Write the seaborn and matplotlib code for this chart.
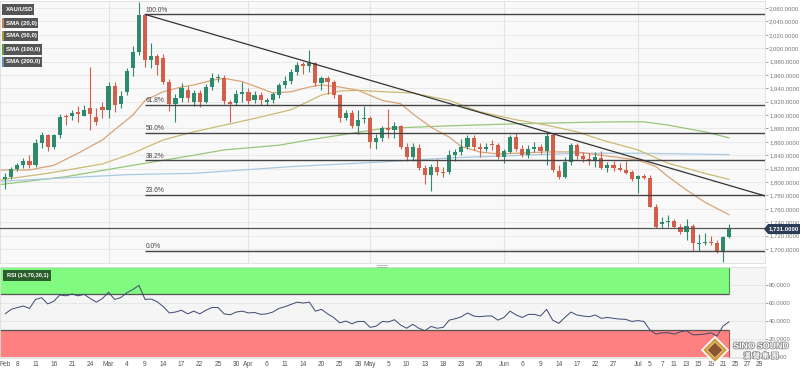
import numpy as np
import seaborn as sns
import matplotlib.pyplot as plt
import matplotlib.patheffects as pe
from matplotlib.patches import Rectangle, Polygon
from matplotlib.lines import Line2D
from matplotlib.ticker import FuncFormatter

sns.set_theme(style="white")
plt.rcParams['font.family'] = ['Liberation Sans', 'Noto Sans CJK TC', 'DejaVu Sans']

### data (one entry per trading day, Feb 4 .. Jul 22 2022)
opens = [1805, 1807, 1820, 1825, 1831, 1826, 1858, 1870, 1853, 1871,
         1898, 1898, 1905, 1899, 1910, 1897, 1912, 1908, 1943, 1916,
         1934, 1970, 1994, 2050, 1983, 1988, 1986, 1950, 1917, 1925,
         1937, 1920, 1933, 1920, 1942, 1955, 1956, 1920, 1918, 1931,
         1935, 1922, 1930, 1920, 1922, 1930, 1945, 1951, 1964, 1977,
         1974, 1978, 1948, 1955, 1950, 1930, 1896, 1903, 1884, 1894,
         1896, 1860, 1866, 1881, 1877, 1883, 1853, 1838, 1851, 1821,
         1810, 1822, 1815, 1815, 1840, 1845, 1853, 1866, 1853, 1850,
         1857, 1855, 1837, 1845, 1867, 1850, 1840, 1850, 1853, 1846,
         1870, 1817, 1808, 1830, 1855, 1839, 1834, 1832, 1836, 1821,
         1825, 1821, 1818, 1815, 1804, 1809, 1806, 1763, 1738, 1740,
         1742, 1733, 1726, 1735, 1708, 1709, 1711, 1709, 1696, 1718]
closes = [1808, 1819, 1826, 1832, 1825, 1859, 1870, 1853, 1870, 1897,
          1897, 1903, 1901, 1908, 1901, 1889, 1907, 1943, 1915, 1928,
          1966, 1994, 2050, 1982, 1988, 1975, 1950, 1917, 1925, 1940,
          1925, 1933, 1920, 1942, 1955, 1957, 1921, 1917, 1931, 1935,
          1921, 1930, 1922, 1922, 1931, 1945, 1951, 1964, 1975, 1974,
          1978, 1948, 1955, 1950, 1930, 1896, 1903, 1884, 1893, 1896,
          1860, 1866, 1880, 1877, 1883, 1853, 1837, 1852, 1821, 1810,
          1822, 1815, 1814, 1840, 1845, 1853, 1866, 1853, 1850, 1853,
          1855, 1837, 1846, 1867, 1850, 1840, 1850, 1853, 1847, 1869,
          1818, 1808, 1830, 1855, 1839, 1834, 1832, 1837, 1821, 1825,
          1821, 1818, 1814, 1804, 1809, 1806, 1763, 1733, 1740, 1742,
          1733, 1726, 1735, 1709, 1709, 1711, 1709, 1696, 1718, 1731]
highs = [1813, 1822, 1829, 1836, 1840, 1864, 1875, 1872, 1872, 1902,
         1902, 1908, 1913, 1915, 1972, 1911, 1920, 1950, 1950, 1936,
         1970, 2003, 2069, 2051, 2007, 1992, 1991, 1954, 1932, 1948,
         1943, 1938, 1937, 1947, 1963, 1962, 1960, 1922, 1937, 1950,
         1940, 1936, 1935, 1926, 1934, 1948, 1958, 1969, 1980, 1980,
         1997, 1980, 1958, 1958, 1953, 1932, 1908, 1907, 1908, 1914,
         1899, 1872, 1884, 1909, 1890, 1885, 1858, 1858, 1857, 1826,
         1827, 1834, 1822, 1848, 1849, 1865, 1870, 1870, 1858, 1858,
         1863, 1858, 1850, 1870, 1873, 1855, 1855, 1860, 1857, 1873,
         1874, 1825, 1838, 1858, 1858, 1845, 1844, 1845, 1846, 1830,
         1832, 1828, 1831, 1818, 1811, 1812, 1810, 1767, 1748, 1750,
         1745, 1737, 1745, 1738, 1722, 1724, 1720, 1713, 1720, 1738]
lows = [1790, 1805, 1816, 1821, 1821, 1822, 1851, 1846, 1849, 1866,
        1885, 1893, 1890, 1899, 1878, 1885, 1895, 1895, 1905, 1911,
        1930, 1958, 1990, 1972, 1970, 1960, 1946, 1906, 1889, 1920,
        1919, 1914, 1912, 1918, 1938, 1950, 1917, 1890, 1915, 1920,
        1916, 1918, 1915, 1915, 1918, 1925, 1940, 1947, 1960, 1962,
        1965, 1944, 1938, 1932, 1926, 1890, 1892, 1880, 1872, 1888,
        1851, 1850, 1862, 1866, 1866, 1850, 1832, 1832, 1818, 1797,
        1787, 1810, 1807, 1812, 1832, 1841, 1850, 1848, 1838, 1846,
        1848, 1834, 1829, 1843, 1847, 1837, 1836, 1845, 1842, 1825,
        1815, 1805, 1806, 1825, 1835, 1830, 1826, 1823, 1820, 1815,
        1816, 1816, 1812, 1802, 1783, 1804, 1762, 1732, 1732, 1733,
        1731, 1722, 1713, 1697, 1697, 1706, 1706, 1694, 1680, 1716]
rsi = [48, 53, 55, 56.7, 54, 64, 66, 59, 62, 69,
       68, 70, 68, 69.6, 65, 61, 65, 72, 64, 66,
       71.5, 75, 79.6, 64, 64.5, 61.5, 56, 49, 50, 52,
       48, 51, 48, 52, 55, 55, 48, 47, 50, 51,
       49, 49.5, 47.5, 48, 50, 54, 56, 58.5, 61, 60,
       61, 51, 53, 48, 44, 38, 40, 37, 39.6, 39.6,
       33, 34.4, 39.6, 39, 41.5, 35.6, 32, 36.4, 32, 29.3,
       34, 32, 33, 41, 42.6, 44.8, 49, 45.6, 44.8, 45.6,
       45.6, 41, 44, 51, 46.7, 44, 47.4, 47.4, 45.6, 53,
       41, 37.4, 44, 50, 46.7, 45.6, 44.8, 46.7, 43, 44,
       43, 42.2, 41.9, 39.6, 40.5, 39.6, 30, 25.6, 27, 27,
       25.6, 28, 29.3, 24.8, 24.8, 25.6, 27, 23.3, 34.4, 39.2]

# moving averages at a few days
sma20_idx = [-1, 4, 8, 12, 16, 18, 21, 23, 26, 29, 31, 34, 36, 39, 42, 44, 47, 50, 52,
             55, 58, 62, 65, 67, 70, 73, 75, 78, 81, 84, 89, 94, 98, 104, 107, 109, 112, 115, 119]
sma20_val = [1818, 1818, 1825, 1843, 1863, 1878, 1900, 1922, 1935, 1942, 1945, 1952, 1955, 1950,
             1940, 1933, 1935, 1942, 1945, 1942, 1937, 1922, 1917, 1902, 1882, 1867, 1853, 1845,
             1842, 1843, 1845, 1845, 1840, 1833, 1823, 1808, 1788, 1770, 1751]
sma50_idx = [-1, 7, 16, 21, 26, 31, 36, 41, 47, 52, 55, 58, 62, 67, 73, 78, 84, 89, 94, 98, 104, 109, 115, 119]
sma50_val = [1803, 1813, 1827, 1843, 1863, 1875, 1885, 1895, 1908, 1930, 1936, 1937, 1935, 1933,
             1922, 1905, 1893, 1885, 1875, 1863, 1848, 1828, 1813, 1804]
sma100_idx = [-1, 10, 21, 31, 36, 45, 50, 55, 62, 73, 84, 94, 101, 105, 109, 115, 119]
sma100_val = [1796, 1808, 1825, 1840, 1848, 1855, 1863, 1870, 1880, 1884, 1887, 1889, 1890, 1890,
              1885, 1875, 1866]
sma200_idx = [-1, 20, 31, 47, 62, 73, 94, 104, 119]
sma200_val = [1801, 1811, 1813, 1823, 1830, 1836, 1843, 1843, 1841]

# fibonacci retracement from the Mar 8 close to the Jul low
fib_start = 23
fib_high = 2050.5
fib_low = 1697.5
fib_ratios = [1.0, 0.618, 0.5, 0.382, 0.236, 0.0]
fib_labels = ["100.0%", "61.8%", "50.0%", "38.2%", "23.6%", "0.0%"]

trend_idx = [23, 125]
trend_val = [2050.5, 1779]
last_price = 1731

tick_idx = [0, 2, 5, 8, 11, 14, 17, 20, 23, 26, 29, 32, 35, 38, 40, 43, 46, 49, 52, 55, 58,
            60, 63, 66, 69, 72, 75, 78, 82, 85, 88, 91, 94, 97, 100, 104, 106, 108, 110,
            112, 114, 116, 118, 120, 122, 124]
tick_lab = ["Feb", "8", "11", "16", "21", "24", "Mar", "4", "9", "14", "17", "22", "25", "30",
            "Apr", "6", "11", "14", "20", "25", "28", "May", "5", "10", "13", "18", "23", "26",
            "Jun", "6", "9", "14", "17", "22", "27", "Jul", "5", "7", "11", "13", "15", "19",
            "21", "25", "27", "29"]
month_idx = [17, 40, 60, 82, 104]

### figure layout in pixels
W, H = 800, 372
def fx(px):
    return px / W
def fy(py):
    return 1 - py / H

fig = plt.figure(figsize=(8, 3.72), dpi=100)
fig.patch.set_facecolor('white')
ax = fig.add_axes([0, fy(263), fx(765), (263 - 1) / H])
rax = fig.add_axes([0, fy(358), fx(765), (358 - 267) / H])
x_left, x_right = -0.84, 124.9

green, red = '#2e8a6c', '#d35f4b'

### price panel
ax.set_facecolor('#f9f9f9')
ax.set_xlim(x_left, x_right)
ax.set_ylim(1679, 2070.5)
ax.set_yticks(np.arange(1700, 2061, 20))
ax.grid(axis='y', color='#e8e8e8', lw=0.6)
ax.set_axisbelow(True)
for m in month_idx:
    ax.axvline(m, color='#e4e4e4', lw=0.8, zorder=0)

idx = np.arange(len(closes))
o = np.array(opens, float)
c = np.array(closes, float)
up = c >= o
cols = np.where(up, green, red)
ax.vlines(idx, lows, highs, colors=cols, lw=0.8, zorder=3)
body = np.maximum(np.abs(c - o), 0.9)
bottom = np.minimum(o, c) - (body - np.abs(c - o)) / 2
ax.bar(idx, body, bottom=bottom, width=0.68, color=cols, linewidth=0, zorder=4)

for xs, ys, col in [(sma100_idx, sma100_val, '#98c67a'),
                    (sma200_idx, sma200_val, '#a9c9e2'),
                    (sma50_idx, sma50_val, '#cbbb74'),
                    (sma20_idx, sma20_val, '#d9a475')]:
    sns.lineplot(x=xs, y=ys, ax=ax, color=col, lw=0.9, zorder=2)

for r, lab in zip(fib_ratios, fib_labels):
    lvl = fib_low + r * (fib_high - fib_low)
    ax.hlines(lvl, fib_start, x_right, color='#444444', lw=1.0, zorder=5)
    ax.text(fib_start + 0.1, lvl + 0.8, lab, fontsize=4.8, color='#444444', va='bottom', ha='left', zorder=6)
ax.axhline(last_price, color='#555555', lw=0.9, zorder=5)
ax.plot(trend_idx, trend_val, color='#333333', lw=0.9, zorder=5)

ax.set_xticks([])
ax.yaxis.tick_right()
ax.yaxis.set_major_formatter(FuncFormatter(lambda v, p: "{:,.4f}".format(v)))
ax.tick_params(axis='y', labelsize=4.3, colors='#777777', length=2, width=0.5, pad=1)
for s in ax.spines.values():
    s.set_color('#dddddd')
    s.set_linewidth(0.6)
ax.set_xlabel('')
ax.set_ylabel('')

### RSI panel
rax.set_facecolor('#f5f5f5')
rax.set_xlim(x_left, x_right)
rax.set_ylim(-1, 100)
rax.set_yticks([0, 20, 40, 60, 80])
rax.grid(axis='y', color='#e4e4e4', lw=0.6)
rax.set_axisbelow(True)
rax.add_patch(Rectangle((x_left, 70), 119 - x_left, 30, fc='#80fb80', ec='none', zorder=1))
rax.add_patch(Rectangle((x_left, 0), 119 - x_left, 30, fc='#ff8080', ec='none', zorder=1))
rax.hlines([70, 30], x_left, 119, color='#555555', lw=0.9, zorder=2)
rax.vlines(119, 70, 100, color='#4a9a4a', lw=0.8, zorder=2)
rax.vlines(119, 0, 30, color='#b05050', lw=0.8, zorder=2)
sns.lineplot(x=idx, y=rsi, ax=rax, color='#3c4870', lw=0.7, zorder=3)

rax.yaxis.tick_right()
rax.yaxis.set_major_formatter(FuncFormatter(lambda v, p: "{:.4f}".format(v)))
rax.tick_params(axis='y', labelsize=4.3, colors='#777777', length=2, width=0.5, pad=1)
rax.set_xticks(tick_idx)
rax.set_xticklabels(tick_lab)
rax.tick_params(axis='x', labelsize=4.8, colors='#555555', length=0, pad=2)
for s in rax.spines.values():
    s.set_color('#dddddd')
    s.set_linewidth(0.6)
rax.set_xlabel('')
rax.set_ylabel('')

### overlay boxes
def label_box(x0, y0, x1, y1, text, fc, stripe=None, size=4.4):
    fig.add_artist(Rectangle((fx(x0), fy(y1)), (x1 - x0) / W, (y1 - y0) / H,
                             transform=fig.transFigure, fc=fc, ec='none', zorder=10))
    if stripe:
        fig.add_artist(Rectangle((fx(x0), fy(y1)), 1.5 / W, (y1 - y0) / H,
                                 transform=fig.transFigure, fc=stripe, ec='none', zorder=11))
    fig.text(fx(x0 + 4), fy((y0 + y1) / 2), text, color='white', fontsize=size,
             fontweight='bold', va='center', ha='left', zorder=12)

label_box(2, 4, 34, 15, "XAU/USD", '#555555')
label_box(2, 18, 38, 28, "SMA (20,0)", '#555555', '#c8844e')
label_box(2, 31, 38, 41, "SMA (50,0)", '#555555', '#a8983e')
label_box(2, 44, 42, 55, "SMA (100,0)", '#555555', '#5ea040')
label_box(2, 57, 42, 67, "SMA (200,0)", '#555555', '#5e8ec0')
label_box(3, 270, 51, 281, "RSI (14,70,30,1)", '#2c5e2c', size=4.1)

# last price tag
tag = [(764, 229), (768, 224), (800, 224), (800, 234), (768, 234)]
fig.add_artist(Polygon([(fx(a), fy(b)) for a, b in tag], closed=True, transform=fig.transFigure,
                       fc='#2c3c56', ec='none', zorder=10))
fig.text(fx(784), fy(229), "{:,.4f}".format(last_price), color='white', fontsize=4.3,
         fontweight='bold', va='center', ha='center', zorder=11)

# panel splitter handle
for yy in (264.5, 266.5):
    fig.add_artist(Line2D([fx(377), fx(387)], [fy(yy), fy(yy)], transform=fig.transFigure,
                          color='#aaaaaa', lw=0.6))

# watermark
outer = [(715, 337), (728, 350), (715, 363), (702, 350)]
inner = [(715, 342), (723, 350), (715, 358), (707, 350)]
fig.add_artist(Polygon([(fx(a), fy(b)) for a, b in outer], closed=True, transform=fig.transFigure,
                       fc='#d29a3c', ec='white', lw=1.2, zorder=13))
fig.add_artist(Polygon([(fx(a), fy(b)) for a, b in inner], closed=True, transform=fig.transFigure,
                       fc='#8a5530', ec='#f0d090', lw=0.6, zorder=14))
stroke = [pe.withStroke(linewidth=1.2, foreground='#8a8a8a')]
fig.text(fx(761), fy(346), "SINO SOUND", color='white', fontsize=6.3, fontweight='bold',
         ha='center', va='center', zorder=15, path_effects=stroke)
fig.text(fx(761), fy(356.5), "漢 聲 集 團", color='white', fontsize=5.2, fontweight='bold',
         ha='center', va='center', zorder=15, path_effects=stroke)

fig.savefig('out.png', dpi=100)
